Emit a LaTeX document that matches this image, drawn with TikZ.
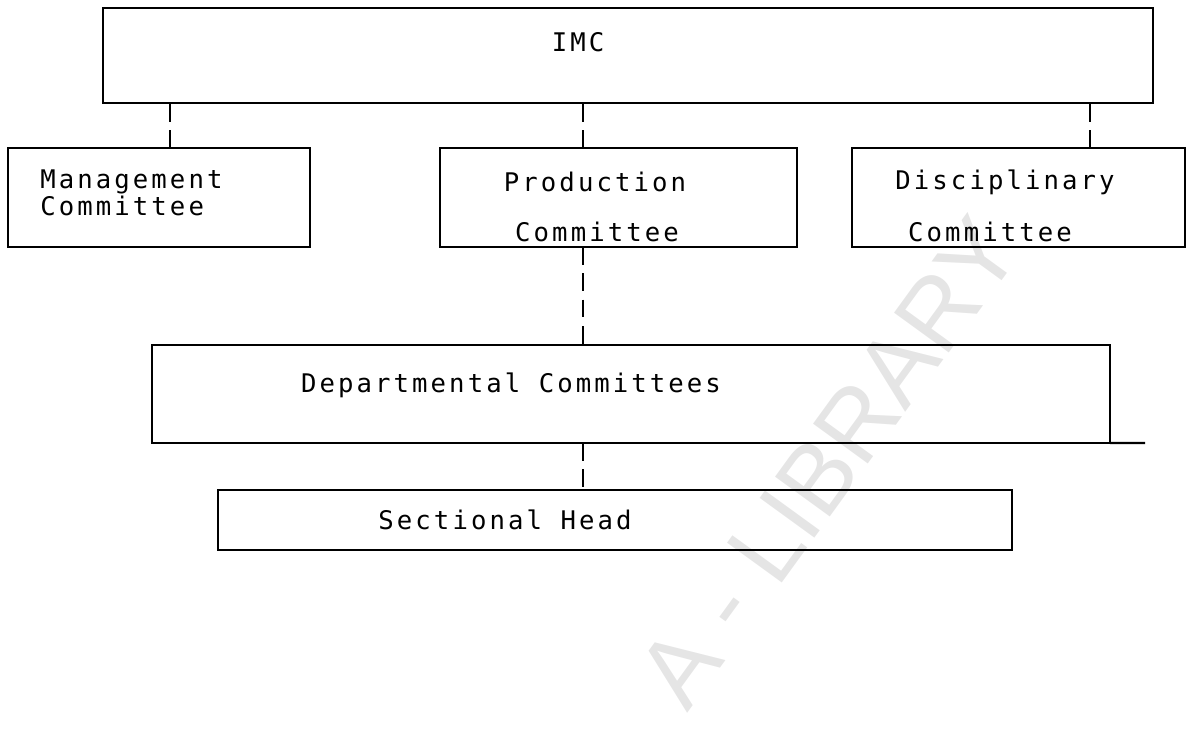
\documentclass[tikz,border=0pt]{standalone}
\usepackage{fontspec}
\newfontfamily\dotmatrix[LetterSpace=12]{DejaVu Sans Mono}
\newfontfamily\wmfont{Liberation Sans}

\begin{document}
\begin{tikzpicture}[x=0.02cm,y=-0.02cm]
  \useasboundingbox (0,0) rectangle (1193,752);
  \tikzset{box/.style = {shape=rectangle,draw,line width=1.4pt,inner sep=0pt,outer sep=0pt}}
  \tikzset{txt/.style = {font={\dotmatrix\fontsize{14.6}{16}\selectfont},inner sep=0pt}}
  \tikzset{link/.style = {line width=1.4pt,dash pattern=on 10pt off 5pt}}
  \tikzset{wmark/.style = {font={\wmfont\fontsize{56}{64}\selectfont},text=gray!20,rotate=54}}
  % watermark
  \node[wmark] (wm) at (828,462) {A - LIBRARY};
  % boxes
  \node[box,minimum width=21cm,minimum height=1.9cm] (imc) at (628,55.5) {};
  \node[box,minimum width=6.04cm,minimum height=1.98cm] (mgmt) at (159,197.5) {};
  \node[box,minimum width=7.14cm,minimum height=1.98cm] (prod) at (618.5,197.5) {};
  \node[box,minimum width=6.66cm,minimum height=1.98cm] (disc) at (1018.5,197.5) {};
  \node[box,minimum width=19.16cm,minimum height=1.96cm] (dept) at (631,394) {};
  \node[box,minimum width=15.88cm,minimum height=1.2cm] (sect) at (615,520) {};
  \coordinate (dept-tail) at (1145,443);
  \draw[line width=1.4pt] (dept.south east) -- (dept-tail);
  % texts
  \node[txt] (imc-t) at (578,42) {IMC};
  \node[txt,anchor=west] (mgmt-t1) at (40,182) {Management};
  \node[txt,anchor=west] (mgmt-t2) at (40,206) {Committee};
  \node[txt] (prod-t1) at (595,182) {Production};
  \node[txt] (prod-t2) at (597,232) {Committee};
  \node[txt] (disc-t1) at (1005,182) {Disciplinary};
  \node[txt] (disc-t2) at (990,232) {Committee};
  \node[txt] (dept-t) at (511,385) {Departmental Committees};
  \node[txt] (sect-t) at (505,520) {Sectional Head};
  % links
  \coordinate (spine) at ([xshift=-0.71cm]prod.south);
  \draw[link] ([xshift=0.22cm]mgmt.north) -- ([xshift=0.22cm]mgmt.north |- imc.south);
  \draw[link] (prod.north -| spine) -- (imc.south -| spine);
  \draw[link] ([xshift=1.43cm]disc.north) -- ([xshift=1.43cm]disc.north |- imc.south);
  \draw[link] (spine) -- (dept.north -| spine);
  \draw[link] (dept.south -| spine) -- (sect.north -| spine);
\end{tikzpicture}
\end{document}
